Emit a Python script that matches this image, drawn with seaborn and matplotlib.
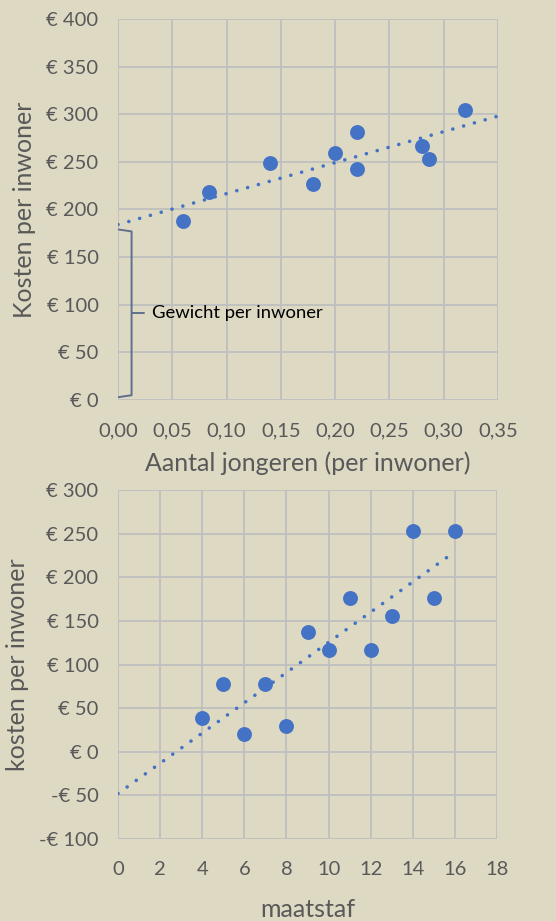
import numpy as np
import pandas as pd
import matplotlib
matplotlib.use("Agg")
import matplotlib.pyplot as plt
import seaborn as sns
from matplotlib.ticker import FuncFormatter

# Top panel: share of young people vs. cost per inhabitant
jongeren = [0.06, 0.084, 0.14, 0.18, 0.20, 0.22, 0.22, 0.28, 0.286, 0.32]
kosten_top = [188, 218, 249, 227, 259, 281, 243, 267, 253, 304]

# Bottom panel: measure vs. cost per inhabitant
maatstaf = [4, 5, 6, 7, 8, 9, 10, 11, 12, 13, 14, 15, 16]
kosten_bottom = [39, 78, 20, 78, 30, 137, 117, 176, 117, 156, 253, 176, 253]

top_xticks = [0.00, 0.05, 0.10, 0.15, 0.20, 0.25, 0.30, 0.35]
top_yticks = [0, 50, 100, 150, 200, 250, 300, 350, 400]
bottom_xticks = [0, 2, 4, 6, 8, 10, 12, 14, 16, 18]
bottom_yticks = [-100, -50, 0, 50, 100, 150, 200, 250, 300]

BG = "#DDD9C3"
GRID = "#BFBFBF"
BLUE = "#4472C4"
TXT = "#595959"

sns.set_theme(style="white")
plt.rcParams["font.family"] = ["Lato", "DejaVu Sans"]

fig = plt.figure(figsize=(5.56, 9.21), dpi=100, facecolor=BG)
ax1 = fig.add_axes([118 / 556, 1 - 400 / 921, (498 - 118) / 556, (400 - 19) / 921])
ax2 = fig.add_axes([118 / 556, 1 - 839 / 921, (497 - 118) / 556, (839 - 490) / 921])


def euro(v, pos=None):
    v = int(round(v))
    return f"-€ {abs(v)}" if v < 0 else f"€ {v}"


def style(ax, xt, yt, xfmt):
    ax.set_facecolor(BG)
    ax.set_xticks(xt)
    ax.set_yticks(yt)
    ax.set_xlim(xt[0], xt[-1])
    ax.set_ylim(yt[0], yt[-1])
    ax.xaxis.set_major_formatter(FuncFormatter(xfmt))
    ax.yaxis.set_major_formatter(FuncFormatter(euro))
    ax.grid(True, color=GRID, linewidth=1.3)
    ax.set_axisbelow(True)
    for s in ax.spines.values():
        s.set_visible(False)
    ax.tick_params(axis="both", colors=TXT, labelsize=14.5, length=0)
    ax.tick_params(axis="x", pad=16)
    ax.tick_params(axis="y", pad=14)


def scatter_with_trend(ax, x, y, x_from, x_to):
    df = pd.DataFrame({"x": x, "y": y})
    slope, intercept = np.polyfit(df["x"], df["y"], 1)
    xs = np.array([x_from, x_to])
    trend = pd.DataFrame({"x": xs, "y": intercept + slope * xs})
    sns.lineplot(data=trend, x="x", y="y", ax=ax, color=BLUE, linewidth=2.6,
                 linestyle=(0, (0.01, 3.1)), dash_capstyle="round", zorder=3)
    sns.scatterplot(data=df, x="x", y="y", ax=ax, color=BLUE, s=115,
                    edgecolor=BLUE, linewidth=0, zorder=4, clip_on=False)


scatter_with_trend(ax1, jongeren, kosten_top, 0.0, 0.35)
style(ax1, top_xticks, top_yticks, lambda v, p: f"{v:.2f}".replace(".", ","))
ax1.set_xlabel("Aantal jongeren (per inwoner)", fontsize=18, color=TXT, va="center")
ax1.set_ylabel("Kosten per inwoner", fontsize=18, color=TXT, va="center")
ax1.xaxis.set_label_coords(0.5, -0.165)
ax1.yaxis.set_label_coords(-0.245, 0.5)

# Curly bracket marking the intercept part of the cost
bc = "#5F6F8C"
bx0, bx1, btip = 0.0005, 0.0125, 0.0235
ax1.plot([bx0, bx1, bx1, bx0], [179, 177, 5, 3], color=bc, linewidth=1.4,
         solid_joinstyle="round", zorder=3)
ax1.plot([bx1, btip], [91, 91], color=bc, linewidth=1.4, zorder=3)
ax1.text(0.031, 91, "Gewicht per inwoner", fontsize=13.3, color="black",
         va="center", ha="left", zorder=5)

scatter_with_trend(ax2, maatstaf, kosten_bottom, 0, 16)
style(ax2, bottom_xticks, bottom_yticks, lambda v, p: f"{int(v)}")
ax2.set_xlabel("maatstaf", fontsize=18, color=TXT, va="center")
ax2.set_ylabel("kosten per inwoner", fontsize=18, color=TXT, va="center")
ax2.xaxis.set_label_coords(0.5, -0.203)
ax2.yaxis.set_label_coords(-0.266, 0.5)

fig.savefig("out.png", dpi=100, facecolor=BG)
